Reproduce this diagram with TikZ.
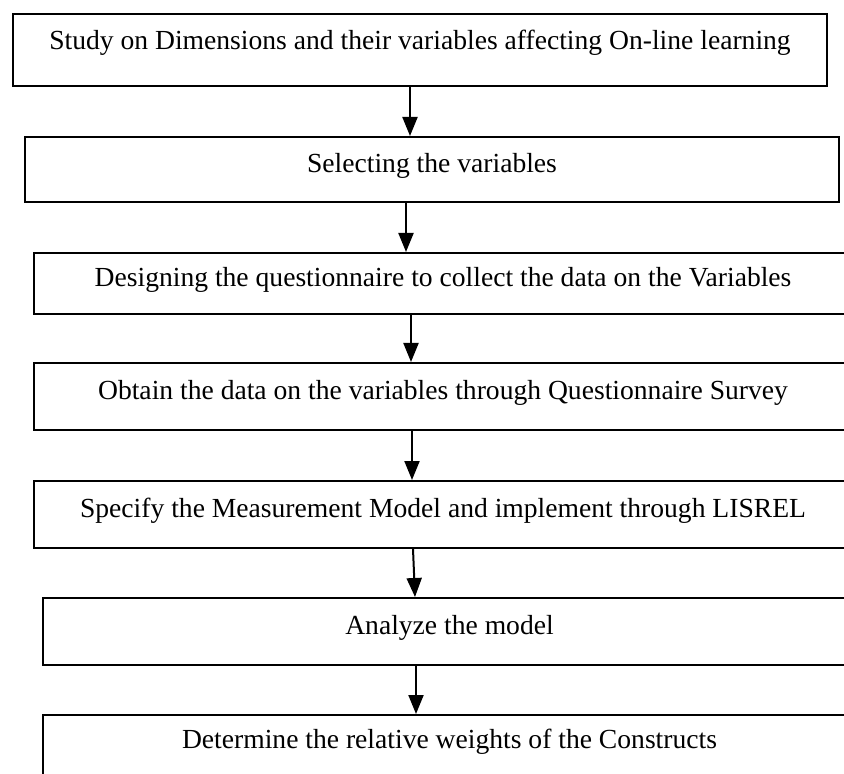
\documentclass[tikz,border=0pt]{standalone}
\usepackage{fontspec}
\setmainfont{Liberation Serif}
\usetikzlibrary{arrows.meta}

\begin{document}
\begin{tikzpicture}[
        x=0.5pt, y=-0.5pt,
        every node/.style={draw, line width=1pt, anchor=north west, inner sep=0pt, align=center, font=\fontsize{13.8}{16}\selectfont},
        paso/.style={minimum width=409pt, minimum height=33.5pt, text depth=6.5pt},
        flecha/.style={-{Triangle[length=9.5pt, width=7.5pt]}, line width=1pt}
    ]
    \useasboundingbox (0,0) rectangle (844,774);
    \clip (0,0) rectangle (844,774);

    \node[paso, minimum width=407pt, minimum height=36.4pt, text depth=10.5pt] (estudio) at (12,12.7) {Study on Dimensions and their variables affecting On-line learning};
    \node[paso, minimum width=407pt, minimum height=32.4pt] (seleccion) at (24,136) {Selecting the variables};
    \node[paso, minimum height=30.3pt] (diseno) at (33,252) {Designing the questionnaire to collect the data on the Variables};
    \node[paso] (datos) at (33,362) {Obtain the data on the variables through Questionnaire Survey};
    \node[paso] (medicion) at (33,480) {Specify the Measurement Model and implement through LISREL};
    \node[paso, minimum width=406.5pt] (analisis) at (42,597) {Analyze the model};
    \node[paso, minimum width=406.5pt, text depth=10pt] (pesos) at (42,714) {Determine the relative weights of the Constructs};

    \draw [flecha] (estudio.south -| 410,0) -- (seleccion.north -| 410,0);
    \draw [flecha] (seleccion.south -| 406,0) -- (diseno.north -| 406,0);
    \draw [flecha] (diseno.south -| 411,0) -- (datos.north -| 411,0);
    \draw [flecha] (datos.south -| 412,0) -- (medicion.north -| 412,0);
    \draw [flecha] (medicion.south -| 413,0) -- (analisis.north -| 415,0);
    \draw [flecha] (analisis.south -| 416,0) -- (pesos.north -| 416,0);
\end{tikzpicture}
\end{document}
